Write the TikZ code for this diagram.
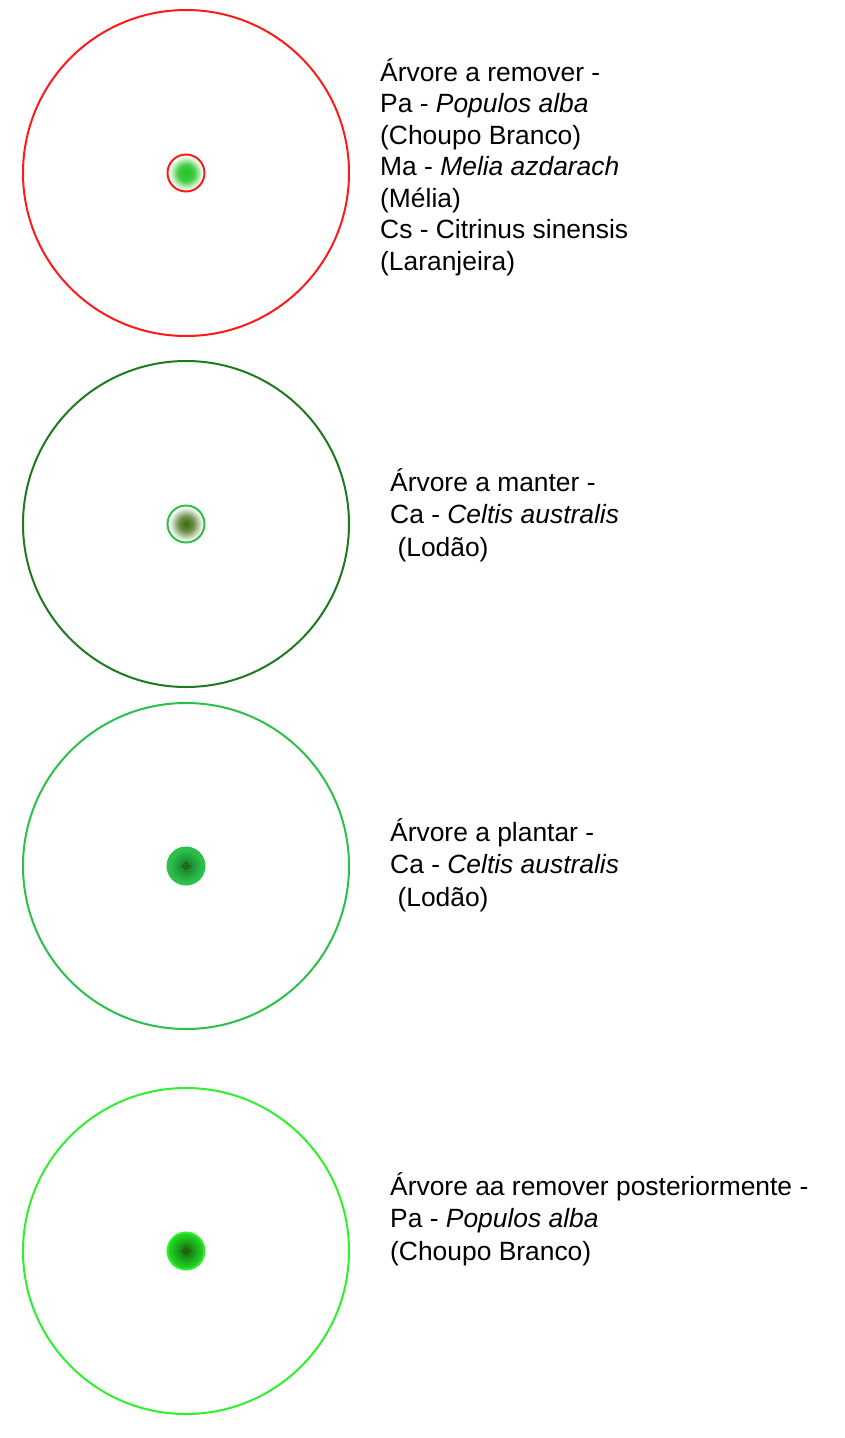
\documentclass[tikz,border=0pt]{standalone}
\usepackage{fontspec}
\setmainfont{Liberation Sans}
\usetikzlibrary{positioning,calc}
\definecolor{cutred}{HTML}{FF1A1A}
\definecolor{keepgreen}{HTML}{1E7A1E}
\definecolor{plantgreen}{HTML}{2CC04A}
\definecolor{latergreen}{HTML}{2EF02E}
\definecolor{leafgreen}{HTML}{22C422}
\definecolor{oldgreen}{HTML}{3A6A0A}
\definecolor{youngcore}{HTML}{137A2A}
\definecolor{latercore}{HTML}{106A10}
\definecolor{lateredge}{HTML}{22D022}
\pgfdeclareradialshading{cutshade}{\pgfpoint{0bp}{0bp}}{color(0bp)=(leafgreen); color(11bp)=(leafgreen!85!white); color(23bp)=(white); color(50bp)=(white)}
\pgfdeclareradialshading{keepshade}{\pgfpoint{0bp}{0bp}}{color(0bp)=(oldgreen); color(10bp)=(oldgreen!75!white); color(23bp)=(white); color(50bp)=(white)}
\pgfdeclareradialshading{plantshade}{\pgfpoint{0bp}{0bp}}{color(0bp)=(youngcore); color(22bp)=(plantgreen); color(50bp)=(plantgreen)}
\pgfdeclareradialshading{latershade}{\pgfpoint{0bp}{0bp}}{color(0bp)=(latercore); color(22bp)=(lateredge); color(50bp)=(lateredge)}

\begin{document}
\begin{tikzpicture}[x=1pt, y=-1pt,
  crown/.style={circle, draw, line width=2pt, minimum size=326pt, inner sep=0pt},
  trunk/.style={circle, draw, line width=2pt, minimum size=37pt, inner sep=0pt},
  legend/.style={anchor=base west, align=left, inner sep=0pt,
                 font=\fontsize{26.4}{31.5}\selectfont},
  cross/.style={line width=0.6pt, draw=oldgreen!80!black}
]
\useasboundingbox (0,0) rectangle (845,1438);

% remove
\node[crown, draw=cutred] (c1) at (186,173) {};
\node[trunk, draw=cutred, shading=cutshade] (t1) at (186,173) {};
\node[legend] (l1) at (380,270) {Árvore a remover -\\Pa - \textit{Populos alba}\\(Choupo Branco)\\
  Ma - \textit{Melia azdarach}\\(Mélia)\\Cs - Citrinus sinensis\\(Laranjeira)};

% keep
\node[crown, draw=keepgreen] (c2) at (186,524) {};
\node[trunk, draw=plantgreen, shading=keepshade] (t2) at (186,524) {};
\node[legend, font=\fontsize{26.4}{32.5}\selectfont] (l2) at (390,556) {Árvore a manter -\\Ca - \textit{Celtis australis}\\ \ (Lodão)};

% plant
\node[crown, draw=plantgreen] (c3) at (186,866) {};
\node[trunk, draw=plantgreen, shading=plantshade] (t3) at (186,866) {};
\draw[cross] (t3.center) circle (3pt) ($(t3.center)+(-6,0)$) -- ++(12,0) ($(t3.center)+(0,-6)$) -- ++(0,12);
\node[legend, font=\fontsize{26.4}{32.5}\selectfont] (l3) at (390,906) {Árvore a plantar -\\Ca - \textit{Celtis australis}\\ \ (Lodão)};

% remove later
\node[crown, draw=latergreen] (c4) at (186,1251) {};
\node[trunk, draw=latergreen, shading=latershade] (t4) at (186,1251) {};
\draw[cross] (t4.center) circle (3pt) ($(t4.center)+(-6,0)$) -- ++(12,0) ($(t4.center)+(0,-6)$) -- ++(0,12);
\node[legend, font=\fontsize{26.4}{32.5}\selectfont] (l4) at (390,1260) {Árvore aa remover posteriormente -\\Pa - \textit{Populos alba}\\(Choupo Branco)};
\end{tikzpicture}
\end{document}
